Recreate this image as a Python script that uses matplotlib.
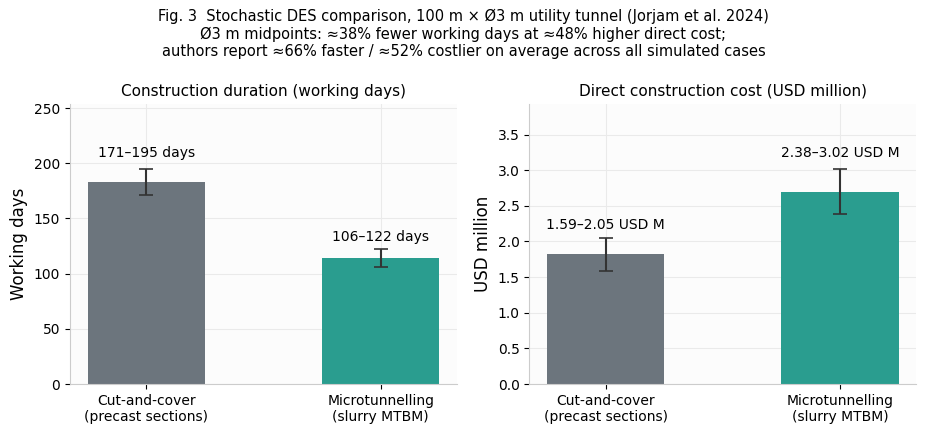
import matplotlib
matplotlib.use("Agg")
import matplotlib.pyplot as plt
import numpy as np

# Data (ranges reported for the Ø3 m case)
methods = ["Cut-and-cover\n(precast sections)", "Microtunnelling\n(slurry MTBM)"]
days_lo = [171, 106]
days_hi = [195, 122]
cost_lo = [1.59, 2.38]
cost_hi = [2.05, 3.02]
colors = ["#6c757d", "#2a9d8f"]

days_mid = [(a + b) / 2 for a, b in zip(days_lo, days_hi)]
cost_mid = [(a + b) / 2 for a, b in zip(cost_lo, cost_hi)]

fig = plt.figure(figsize=(9.27, 4.34), dpi=100)
ax1 = fig.add_axes([0.0755, 0.115, 0.4175, 0.645])
ax2 = fig.add_axes([0.571, 0.115, 0.4175, 0.645])

fig.suptitle("Fig. 3  Stochastic DES comparison, 100 m × Ø3 m utility tunnel (Jorjam et al. 2024)\n"
             "Ø3 m midpoints: ≈38% fewer working days at ≈48% higher direct cost;\n"
             "authors report ≈66% faster / ≈52% costlier on average across all simulated cases",
             fontsize=10.5, y=0.98)


def draw(ax, lo, hi, mid, title, ylabel, fmt):
    x = np.arange(len(methods))
    err = [[m - l for m, l in zip(mid, lo)], [h - m for h, m in zip(hi, mid)]]
    ax.bar(x, mid, width=0.5, color=colors, zorder=2)
    ax.errorbar(x, mid, yerr=err, fmt="none", ecolor="#333333", elinewidth=1.5,
                capsize=5, capthick=1.2, zorder=3)
    for xi, l, h in zip(x, lo, hi):
        ax.text(xi, h * 1.04, fmt.format(l, h), ha="center", va="bottom", fontsize=10)
    ax.set_xticks(x)
    ax.set_xticklabels(methods, fontsize=10)
    ax.set_ylim(0, max(hi) * 1.3)
    ax.set_title(title, fontsize=11, pad=6)
    ax.set_ylabel(ylabel, fontsize=12)
    ax.set_facecolor("#fcfcfc")
    ax.grid(True, color="#eaeaea", linewidth=0.8, zorder=0)
    ax.set_axisbelow(True)
    for s in ["top", "right"]:
        ax.spines[s].set_visible(False)
    for s in ["left", "bottom"]:
        ax.spines[s].set_color("#cccccc")
    ax.tick_params(labelsize=10)


draw(ax1, days_lo, days_hi, days_mid, "Construction duration (working days)",
     "Working days", "{:.0f}–{:.0f} days")
draw(ax2, cost_lo, cost_hi, cost_mid, "Direct construction cost (USD million)",
     "USD million", "{:.2f}–{:.2f} USD M")

fig.savefig("out.png", dpi=100)
